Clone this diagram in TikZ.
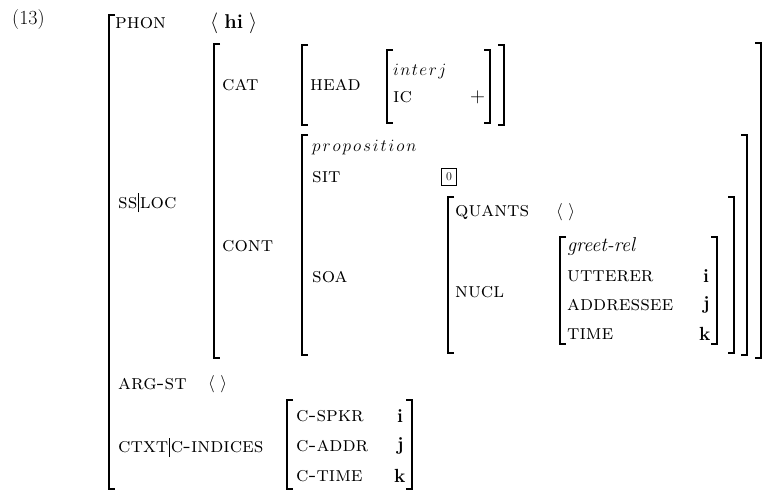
\documentclass[tikz,border=0pt]{standalone}
\usepackage{fontspec}
\newcommand\avmL[3]{\draw[brk] (#1+6,#2) -- (#1,#2) -- (#1,#3) -- (#1+6,#3);}
\newcommand\avmR[3]{\draw[brk] (#1-6,#2) -- (#1,#2) -- (#1,#3) -- (#1-6,#3);}
\newcommand\avmbar{\kern1pt\rule[-4pt]{0.5pt}{19pt}\kern1pt}
\begin{document}
\begin{tikzpicture}[x=1pt,y=-1pt,
  every node/.style={inner sep=0pt, anchor=west, font=\fontsize{18}{21}\selectfont},
  lbl/.style={font=\fontsize{21}{24}\selectfont\scshape\addfontfeature{LetterSpace=10}},
  idx/.style={font=\fontsize{19}{22}\selectfont\bfseries},
  brk/.style={line width=1.7pt},
]
\useasboundingbox (0,0) rectangle (765,494);
\node (ex) at (12,20) {\fontsize{20}{24}\selectfont(13)};
% outer AVM
\avmL{109}{15}{489}
\node[lbl] (phon) at (115,23) {phon};
\node (phonv) at (210,23) {\fontsize{20}{24}\selectfont$\langle$\hspace{6pt}\textbf{hi}\hspace{6pt}$\rangle$};
% SS|LOC
\node[lbl] (ssloc) at (118,203) {ss\avmbar loc};
\avmL{214}{44}{358}
\avmR{761}{43}{358}
% CAT
\node[lbl] (cat) at (222,85) {cat};
\avmL{302}{45}{125}
\avmR{504}{45}{125}
\node[lbl] (head) at (310,85) {head};
\avmL{387}{50}{123}
\avmR{490}{50}{123}
\node (interj) at (393,72) {$i\mkern1.5mu n\mkern1.5mu t\mkern1.5mu e\mkern1.5mu r\mkern1.5mu j$};
\node[lbl] (ic) at (393,97) {ic};
\node (plus) at (470,97) {\fontsize{20}{24}\selectfont$+$};
% CONT
\node[lbl] (cont) at (222,246) {cont};
\avmL{302}{135}{355}
\avmR{747}{135}{355}
\node (prop) at (312,148) {$p\mkern2mu r\mkern2mu o\mkern2mu p\mkern2mu o\mkern2mu s\mkern2mu i\mkern2mu t\mkern2mu i\mkern2mu o\mkern2mu n$};
\node[lbl] (sit) at (312,177) {sit};
\node[draw, line width=1.6pt, minimum width=15pt, minimum height=17pt, anchor=center, font=\fontsize{12}{14}\selectfont] (tag) at (449,177) {0};
\node[lbl] (soa) at (312,277) {soa};
\avmL{448}{197}{353}
\avmR{734}{197}{353}
\node[lbl] (quants) at (455,212) {quants};
\node (quantsv) at (556,212) {$\langle\ \rangle$};
\node[lbl] (nucl) at (455,292) {nucl};
\avmL{560}{237}{344}
\avmR{717}{237}{344}
\node (greet) at (567,247) {\fontsize{20}{24}\selectfont\itshape greet-rel};
\node[lbl] (utt) at (567,276) {utterer};
\node[idx] (utti) at (703,276) {i};
\node[lbl] (addr) at (567,305) {addressee};
\node[idx] (addrj) at (703,305) {j};
\node[lbl] (time) at (567,334) {time};
\node[idx] (timek) at (699,334) {k};
% ARG-ST
\node[lbl] (argst) at (118,384) {arg-st};
\node (argstv) at (208,384) {$\langle\ \rangle$};
% CTXT
\node[lbl] (ctxt) at (118,447) {ctxt\avmbar c-indices};
\avmL{287}{400}{489}
\avmR{412}{400}{489}
\node[lbl] (spkr) at (296,416) {c-spkr};
\node[idx] (spkri) at (397,416) {i};
\node[lbl] (caddr) at (296,446) {c-addr};
\node[idx] (caddrj) at (397,446) {j};
\node[lbl] (ctime) at (296,476) {c-time};
\node[idx] (ctimek) at (394,476) {k};
\end{tikzpicture}
\end{document}
